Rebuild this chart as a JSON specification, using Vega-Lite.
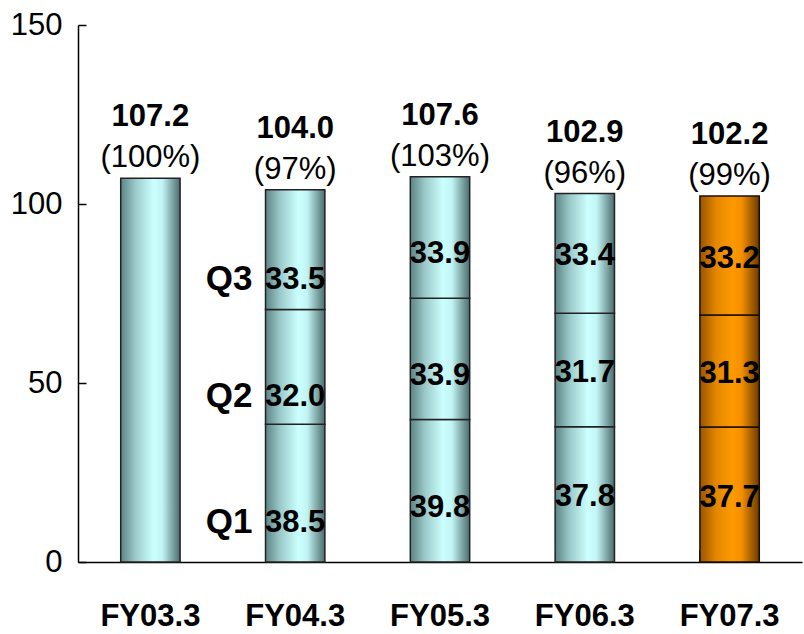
{
  "$schema": "https://vega.github.io/schema/vega-lite/v6.json",
  "width": 724,
  "height": 537,
  "autosize": "none",
  "padding": {"left": 78, "top": 25, "right": 2, "bottom": 72},
  "background": "white",
  "config": {
    "view": {"stroke": null},
    "font": "Liberation Sans"
  },
  "datasets": {
    "segments": [
      {"fy": "FY03.3", "quarter": "FY", "order": 1, "value": 107.2},
      {"fy": "FY04.3", "quarter": "Q1", "order": 1, "value": 38.5},
      {"fy": "FY04.3", "quarter": "Q2", "order": 2, "value": 32.0},
      {"fy": "FY04.3", "quarter": "Q3", "order": 3, "value": 33.5},
      {"fy": "FY05.3", "quarter": "Q1", "order": 1, "value": 39.8},
      {"fy": "FY05.3", "quarter": "Q2", "order": 2, "value": 33.9},
      {"fy": "FY05.3", "quarter": "Q3", "order": 3, "value": 33.9},
      {"fy": "FY06.3", "quarter": "Q1", "order": 1, "value": 37.8},
      {"fy": "FY06.3", "quarter": "Q2", "order": 2, "value": 31.7},
      {"fy": "FY06.3", "quarter": "Q3", "order": 3, "value": 33.4},
      {"fy": "FY07.3", "quarter": "Q1", "order": 1, "value": 37.7},
      {"fy": "FY07.3", "quarter": "Q2", "order": 2, "value": 31.3},
      {"fy": "FY07.3", "quarter": "Q3", "order": 3, "value": 33.2}
    ],
    "totals": [
      {"fy": "FY03.3", "total": 107.2, "pct": "(100%)"},
      {"fy": "FY04.3", "total": 104.0, "pct": "(97%)"},
      {"fy": "FY05.3", "total": 107.6, "pct": "(103%)"},
      {"fy": "FY06.3", "total": 102.9, "pct": "(96%)"},
      {"fy": "FY07.3", "total": 102.2, "pct": "(99%)"}
    ]
  },
  "encoding": {
    "x": {
      "field": "fy",
      "type": "nominal",
      "sort": ["FY03.3", "FY04.3", "FY05.3", "FY06.3", "FY07.3"],
      "scale": {"paddingInner": 0.59, "paddingOuter": 0.295},
      "axis": {
        "title": null,
        "labelAngle": 0,
        "labelFont": "Liberation Sans",
        "labelFontWeight": "bold",
        "labelFontSize": 31,
        "labelColor": "black",
        "labelPadding": 51,
        "domainColor": "black",
        "domainWidth": 1.5,
        "tickColor": "black",
        "tickWidth": 1,
        "tickSize": -12,
        "bandPosition": 0
      }
    }
  },
  "layer": [
    {
      "data": {"name": "segments"},
      "transform": [
        {"stack": "value", "groupby": ["fy"], "sort": [{"field": "order"}], "as": ["v0", "v1"]},
        {"filter": "datum.fy != 'FY07.3'"}
      ],
      "mark": {
        "type": "bar",
        "stroke": "#222222",
        "strokeWidth": 1.5,
        "color": {
          "gradient": "linear", "x1": 0, "x2": 1, "y1": 0, "y2": 0,
          "stops": [
            {"offset": 0, "color": "#5c8484"},
            {"offset": 0.25, "color": "#9ccaca"},
            {"offset": 0.55, "color": "#ccffff"},
            {"offset": 0.7, "color": "#c2f4f4"},
            {"offset": 1, "color": "#4c6c6c"}
          ]
        }
      },
      "encoding": {
        "y": {
          "field": "v0", "type": "quantitative",
          "scale": {"domain": [0, 150], "nice": false},
          "axis": {
            "title": null,
            "values": [0, 50, 100, 150],
            "grid": false,
            "labelFont": "Liberation Sans",
            "labelFontSize": 31,
            "labelColor": "black",
            "labelPadding": 24,
            "domainColor": "black",
            "domainWidth": 1.5,
            "tickColor": "black",
            "tickSize": -8,
            "tickWidth": 1.5
          }
        },
        "y2": {"field": "v1"}
      }
    },
    {
      "data": {"name": "segments"},
      "transform": [
        {"stack": "value", "groupby": ["fy"], "sort": [{"field": "order"}], "as": ["v0", "v1"]},
        {"filter": "datum.fy == 'FY07.3'"}
      ],
      "mark": {
        "type": "bar",
        "stroke": "#1a0f00",
        "strokeWidth": 1.5,
        "color": {
          "gradient": "linear", "x1": 0, "x2": 1, "y1": 0, "y2": 0,
          "stops": [
            {"offset": 0, "color": "#9a5500"},
            {"offset": 0.28, "color": "#e48800"},
            {"offset": 0.55, "color": "#ff9900"},
            {"offset": 0.7, "color": "#f49000"},
            {"offset": 1, "color": "#6a3a00"}
          ]
        }
      },
      "encoding": {
        "y": {"field": "v0", "type": "quantitative"},
        "y2": {"field": "v1"}
      }
    },
    {
      "data": {"name": "segments"},
      "transform": [
        {"stack": "value", "groupby": ["fy"], "sort": [{"field": "order"}], "as": ["v0", "v1"]},
        {"filter": "datum.fy == 'FY04.3'"},
        {"calculate": "(datum.v0 + datum.v1) / 2", "as": "mid"}
      ],
      "mark": {"type": "text", "fontWeight": "bold", "fontSize": 31, "dy": 30, "baseline": "middle", "color": "black"},
      "encoding": {
        "y": {"field": "mid", "type": "quantitative"},
        "text": {"field": "value", "type": "quantitative", "format": ".1f"}
      }
    },
    {
      "data": {"name": "segments"},
      "transform": [
        {"stack": "value", "groupby": ["fy"], "sort": [{"field": "order"}], "as": ["v0", "v1"]},
        {"filter": "datum.fy == 'FY04.3'"},
        {"calculate": "(datum.v0 + datum.v1) / 2", "as": "mid"}
      ],
      "mark": {"type": "text", "fontWeight": "bold", "fontSize": 35, "dy": 29, "dx": -66, "baseline": "middle", "color": "black"},
      "encoding": {
        "y": {"field": "mid", "type": "quantitative"},
        "text": {"field": "quarter", "type": "nominal"}
      }
    },
    {
      "data": {"name": "segments"},
      "transform": [
        {"stack": "value", "groupby": ["fy"], "sort": [{"field": "order"}], "as": ["v0", "v1"]},
        {"filter": "datum.fy == 'FY05.3'"},
        {"calculate": "(datum.v0 + datum.v1) / 2", "as": "mid"}
      ],
      "mark": {"type": "text", "fontWeight": "bold", "fontSize": 31, "dy": 17, "baseline": "middle", "color": "black"},
      "encoding": {
        "y": {"field": "mid", "type": "quantitative"},
        "text": {"field": "value", "type": "quantitative", "format": ".1f"}
      }
    },
    {
      "data": {"name": "segments"},
      "transform": [
        {"stack": "value", "groupby": ["fy"], "sort": [{"field": "order"}], "as": ["v0", "v1"]},
        {"filter": "datum.fy == 'FY06.3' || datum.fy == 'FY07.3'"},
        {"calculate": "(datum.v0 + datum.v1) / 2", "as": "mid"}
      ],
      "mark": {"type": "text", "fontWeight": "bold", "fontSize": 31, "dy": 3, "baseline": "middle", "color": "black"},
      "encoding": {
        "y": {"field": "mid", "type": "quantitative"},
        "text": {"field": "value", "type": "quantitative", "format": ".1f"}
      }
    },
    {
      "data": {"name": "totals"},
      "mark": {"type": "text", "fontWeight": "bold", "fontSize": 31, "dy": -61, "baseline": "middle", "color": "black"},
      "encoding": {
        "y": {"field": "total", "type": "quantitative"},
        "text": {"field": "total", "type": "quantitative", "format": ".1f"}
      }
    },
    {
      "data": {"name": "totals"},
      "mark": {"type": "text", "fontSize": 31, "dy": -20, "baseline": "middle", "color": "black"},
      "encoding": {
        "y": {"field": "total", "type": "quantitative"},
        "text": {"field": "pct", "type": "nominal"}
      }
    }
  ]
}
